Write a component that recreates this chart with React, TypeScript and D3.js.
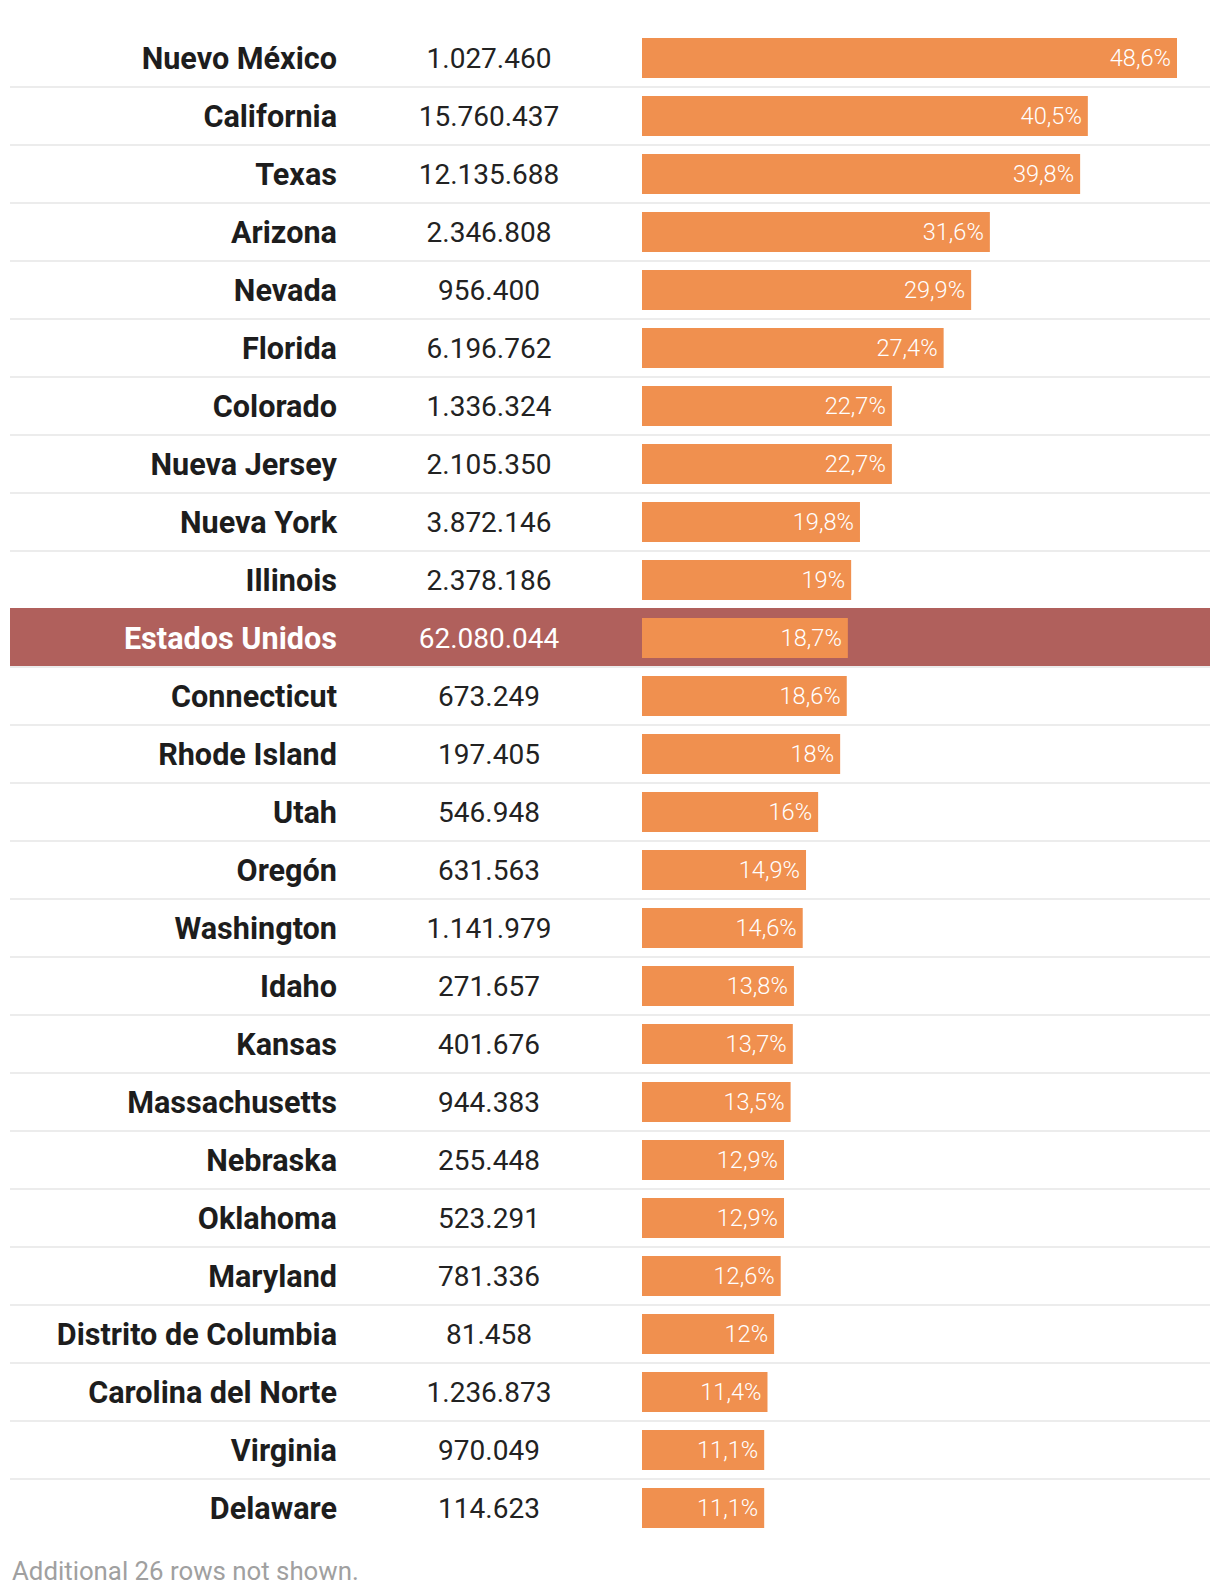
import React from "react";
import * as d3 from "d3";

const states = [
  "Nuevo México", "California", "Texas", "Arizona", "Nevada", "Florida", "Colorado",
  "Nueva Jersey", "Nueva York", "Illinois", "Estados Unidos", "Connecticut", "Rhode Island",
  "Utah", "Oregón", "Washington", "Idaho", "Kansas", "Massachusetts", "Nebraska", "Oklahoma",
  "Maryland", "Distrito de Columbia", "Carolina del Norte", "Virginia", "Delaware",
];
const population = [
  1027460, 15760437, 12135688, 2346808, 956400, 6196762, 1336324, 2105350, 3872146, 2378186,
  62080044, 673249, 197405, 546948, 631563, 1141979, 271657, 401676, 944383, 255448, 523291,
  781336, 81458, 1236873, 970049, 114623,
];
const share = [
  48.6, 40.5, 39.8, 31.6, 29.9, 27.4, 22.7, 22.7, 19.8, 19, 18.7, 18.6, 18, 16, 14.9, 14.6,
  13.8, 13.7, 13.5, 12.9, 12.9, 12.6, 12, 11.4, 11.1, 11.1,
];
const highlighted = ["Estados Unidos"];
const footnote = "Additional 26 rows not shown.";

const W = 1220;
const H = 1596;
const left = 10;
const right = 1210;
const rowTop = 30;
const pitch = 58;
const barX0 = 642;

const fmtInt = (n: number) =>
  d3.format(",")(n).replace(/,/g, ".");
const fmtPct = (v: number) => String(v).replace(".", ",") + "%";

export default function App() {
  const y = d3.scaleLinear().domain([0, 1]).range([rowTop, rowTop + pitch]);
  const x = d3.scaleLinear().domain([0, 48.6]).range([barX0, 1177]);
  const font = "Roboto, 'Noto Sans', sans-serif";
  return (
    <svg width={W} height={H} style={{ position: "absolute", left: 0, top: 0 }} fontFamily={font}>
      <rect width={W} height={H} fill="#fff" />
      {states.map((s, i) => {
        const top = y(i);
        const hl = highlighted.includes(s);
        const cy = top + 28;
        return (
          <g key={s}>
            {hl && <rect x={left} y={top - 2} width={right - left} height={58} fill="#b0605c" />}
            {i < states.length - 1 && (
              <rect x={left} y={top + 56} width={right - left} height={2} fill="rgba(0,0,0,0.075)" />
            )}
            <text x={337} y={cy + 11} textAnchor="end" fontWeight={700} fontSize={30.6}
              fill={hl ? "#fff" : "#1d1d1d"}>{s}</text>
            <text x={489} y={cy + 10} textAnchor="middle" fontSize={28}
              fill={hl ? "#fff" : "#222"}>{fmtInt(population[i])}</text>
            <rect x={barX0} y={top + 8} width={x(share[i]) - barX0} height={40} fill="#f0904f" />
            <text x={x(share[i]) - 6} y={cy + 8} textAnchor="end" fontSize={23.6} fontWeight={300} fill="#fff">
              {fmtPct(share[i])}
            </text>
          </g>
        );
      })}
      <text x={12} y={1580} fontSize={25.8} fill="#a0a0a0">{footnote}</text>
    </svg>
  );
}
